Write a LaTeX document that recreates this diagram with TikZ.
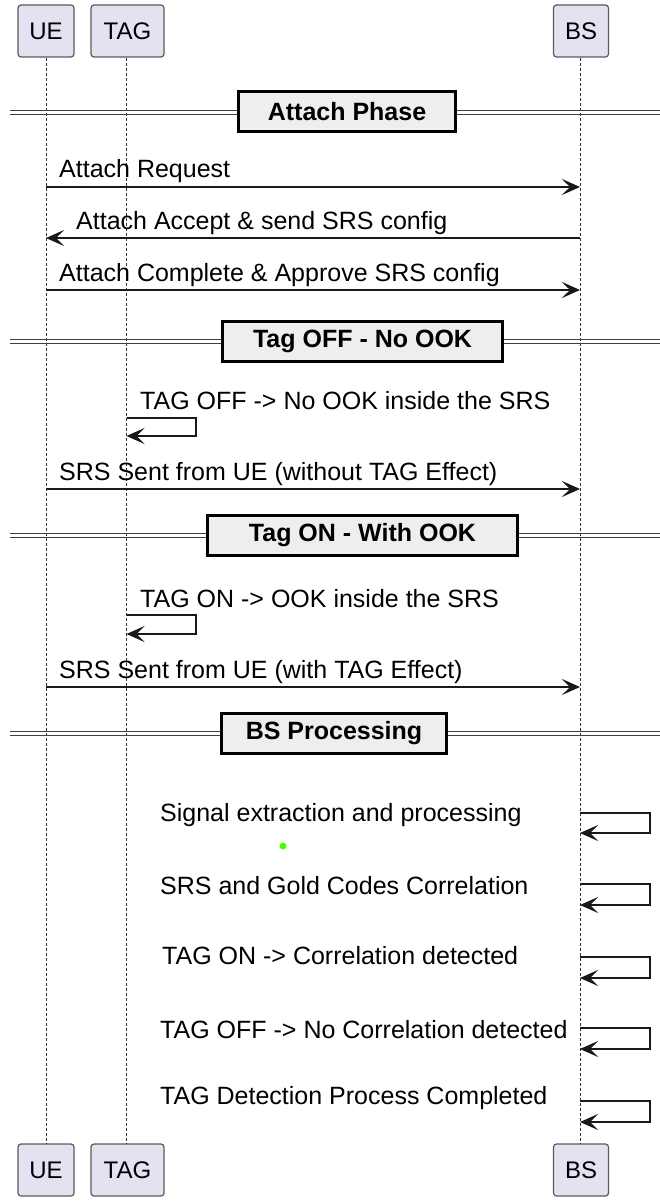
\documentclass[tikz,border=0pt]{standalone}
\usepackage{fontspec}
\setmainfont{Liberation Sans}
\usetikzlibrary{arrows.meta}
\definecolor{partfill}{HTML}{E2E2F0}
\definecolor{partdraw}{HTML}{5A5A5A}
\definecolor{divfill}{HTML}{EEEEEE}
\tikzset{
  part/.style={draw=partdraw, line width=1.2pt, fill=partfill, rounded corners=3pt, inner sep=0pt, minimum height=52pt, font=\fontsize{24}{28}\selectfont},
  lifeline/.style={draw=black!80, line width=0.9pt, dash pattern=on 3pt off 2pt},
  msg/.style={draw=black!90, line width=1.4pt, -{Stealth[length=18pt,width=16pt,inset=8pt]}},
  lbl/.style={anchor=base west, inner sep=0pt, font=\fontsize{25}{28}\selectfont},
  divbox/.style={draw=black, line width=3pt, fill=divfill, inner sep=0pt, minimum height=40pt},
  divtxt/.style={font=\bfseries\fontsize{25}{28}\selectfont},
  dline/.style={draw=black!75, line width=0.9pt},
}
\newcommand{\divider}[4]{%
  \draw[dline] (10,#1-2) -- (660,#1-2);
  \draw[dline] (10,#1+2) -- (660,#1+2);
  \node[divbox, minimum width=#3pt] (#4) at (#2,#1) {};
}
\newcommand{\bsself}[2]{%
  \draw[msg] (bsx |- 0,#1) -- (650,#1) -- (650,#2) -- (bsx |- 0,#2);
}
\begin{document}
\begin{tikzpicture}[x=1pt, y=-1pt]
\useasboundingbox (0,0) rectangle (660,1201);
% participants
\node[part, minimum width=56pt] (ue) at (46,31) {UE};
\node[part, minimum width=73pt] (tag) at (127.5,31) {TAG};
\node[part, minimum width=55pt] (bs) at (581,31) {BS};
\node[part, minimum width=56pt] (ue2) at (46,1170) {UE};
\node[part, minimum width=73pt] (tag2) at (127.5,1170) {TAG};
\node[part, minimum width=55pt] (bs2) at (581,1170) {BS};
% lifelines
\coordinate (uex) at (46,0);
\coordinate (tagx) at (126.5,0);
\coordinate (bsx) at (580,0);
\draw[lifeline] (ue.south) -- (ue2.north);
\draw[lifeline] (tag.south -| tagx) -- (tag2.north -| tagx);
\draw[lifeline] (bs.south -| bsx) -- (bs2.north -| bsx);
% dividers
\divider{112}{347}{217}{d1}
\node[divtxt] at (d1) {Attach Phase};
\divider{341}{362.5}{280}{d2}
\node[divtxt] at (d2) {Tag OFF - No OOK};
\divider{535}{362.5}{310}{d3}
\node[divtxt] at (d3) {Tag ON - With OOK};
\divider{733}{334}{225}{d4}
\node[divtxt] at (d4) {BS Processing};
% messages
\coordinate (m1) at (0,187);
\draw[msg] (ue.south |- m1) -- (bsx |- m1);
\node[lbl] (t1) at (59,178) {Attach Request};
\coordinate (m2) at (0,238);
\draw[msg] (bsx |- m2) -- (ue.south |- m2);
\node[lbl] (t2) at (76,229) {Attach Accept \& send SRS config};
\coordinate (m3) at (0,290);
\draw[msg] (ue.south |- m3) -- (bsx |- m3);
\node[lbl] (t3) at (59,281) {Attach Complete \& Approve SRS config};
% tag off self
\coordinate (s1) at (196,418);
\draw[msg] (tagx |- s1) -- (s1) -- (196,436) -- (tagx |- 0,436);
\node[lbl] (t4) at (140,409) {TAG OFF -> No OOK inside the SRS};
\coordinate (m4) at (0,489);
\draw[msg] (ue.south |- m4) -- (bsx |- m4);
\node[lbl] (t5) at (59,480) {SRS Sent from UE (without TAG Effect)};
% tag on self
\coordinate (s2) at (196,615);
\draw[msg] (tagx |- s2) -- (s2) -- (196,634) -- (tagx |- 0,634);
\node[lbl] (t6) at (140,607) {TAG ON -> OOK inside the SRS};
\coordinate (m5) at (0,687);
\draw[msg] (ue.south |- m5) -- (bsx |- m5);
\node[lbl] (t7) at (59,678) {SRS Sent from UE (with TAG Effect)};
% BS processing self messages
\bsself{813}{833}
\node[lbl] (t8) at (160,821) {Signal extraction and processing};
\fill[green!70!yellow] (283,846) circle (3.5pt);
\bsself{884}{905}
\node[lbl] (t9) at (160,894) {SRS and Gold Codes Correlation};
\bsself{957}{978}
\node[lbl] (t10) at (162,964) {TAG ON -> Correlation detected};
\bsself{1028}{1049}
\node[lbl] (t11) at (160,1038) {TAG OFF -> No Correlation detected};
\bsself{1101}{1122}
\node[lbl] (t12) at (160,1104) {TAG Detection Process Completed};
\end{tikzpicture}
\end{document}
